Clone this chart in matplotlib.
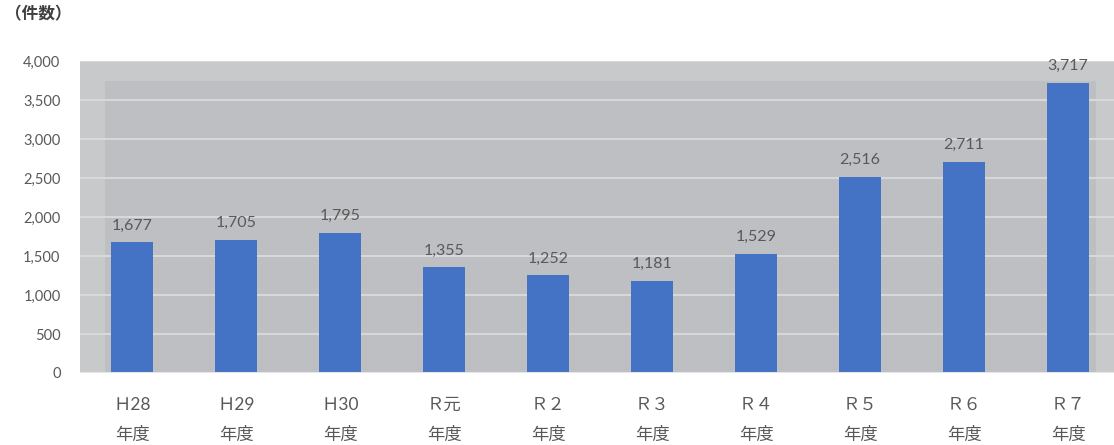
import matplotlib
matplotlib.use("Agg")
import matplotlib.pyplot as plt
from matplotlib.patches import Rectangle

plt.rcParams['font.family'] = ['Lato', 'Noto Sans CJK JP', 'DejaVu Sans']

years = ["Ｈ28", "Ｈ29", "Ｈ30", "Ｒ元", "Ｒ２", "Ｒ３", "Ｒ４", "Ｒ５", "Ｒ６", "Ｒ７"]
counts = [1677, 1705, 1795, 1355, 1252, 1181, 1529, 2516, 2711, 3717]
yticks = [0, 500, 1000, 1500, 2000, 2500, 3000, 3500, 4000]

BAR = "#4472c4"
TXT = "#595959"

W, H = 1114, 445
fig = plt.figure(figsize=(W / 100, H / 100), dpi=100)
# axes spans px 80..1120 horizontally, 61..373 vertically
ax = fig.add_axes([80 / W, (H - 373) / H, 1040 / W, 312 / H])
ax.set_facecolor("#c8c9cb")
ax.set_xlim(-0.5, len(years) - 0.5)
ax.set_ylim(0, 4000)

# darker inner plot area
ax.add_patch(Rectangle((-0.26, 0), 9.53, 3745, facecolor="#bebfc3",
                       edgecolor="none", zorder=0.5))

for y in yticks[1:]:
    ax.axhline(y, color="#dadbdc", lw=1.3, zorder=1)
ax.axhline(0, color="#e6e6e6", lw=1.5, zorder=3)

x = range(len(years))
ax.bar(x, counts, width=0.4, color=BAR, zorder=2)
for i, v in enumerate(counts):
    ax.annotate(f"{v:,}", (i, v), xytext=(0, 7), textcoords="offset points",
                ha="center", va="bottom", fontsize=11.5, color=TXT)

ax.set_yticks(yticks)
ax.set_yticklabels([f"{v:,}" for v in yticks], fontsize=10.5, color=TXT)
ax.set_xticks(list(x))
ax.set_xticklabels([f"{y}\n年度" for y in years], fontsize=12.5, color=TXT,
                   linespacing=2.1)
ax.tick_params(axis="y", length=0, pad=14)
ax.tick_params(axis="x", length=0, pad=17)
for s in ax.spines.values():
    s.set_visible(False)

fig.text(5 / W, 1 - 14 / H, "（件数）", fontsize=12, fontweight="bold",
         color="#404040", va="center", ha="left")

fig.savefig("out.png", dpi=100, facecolor="white")
